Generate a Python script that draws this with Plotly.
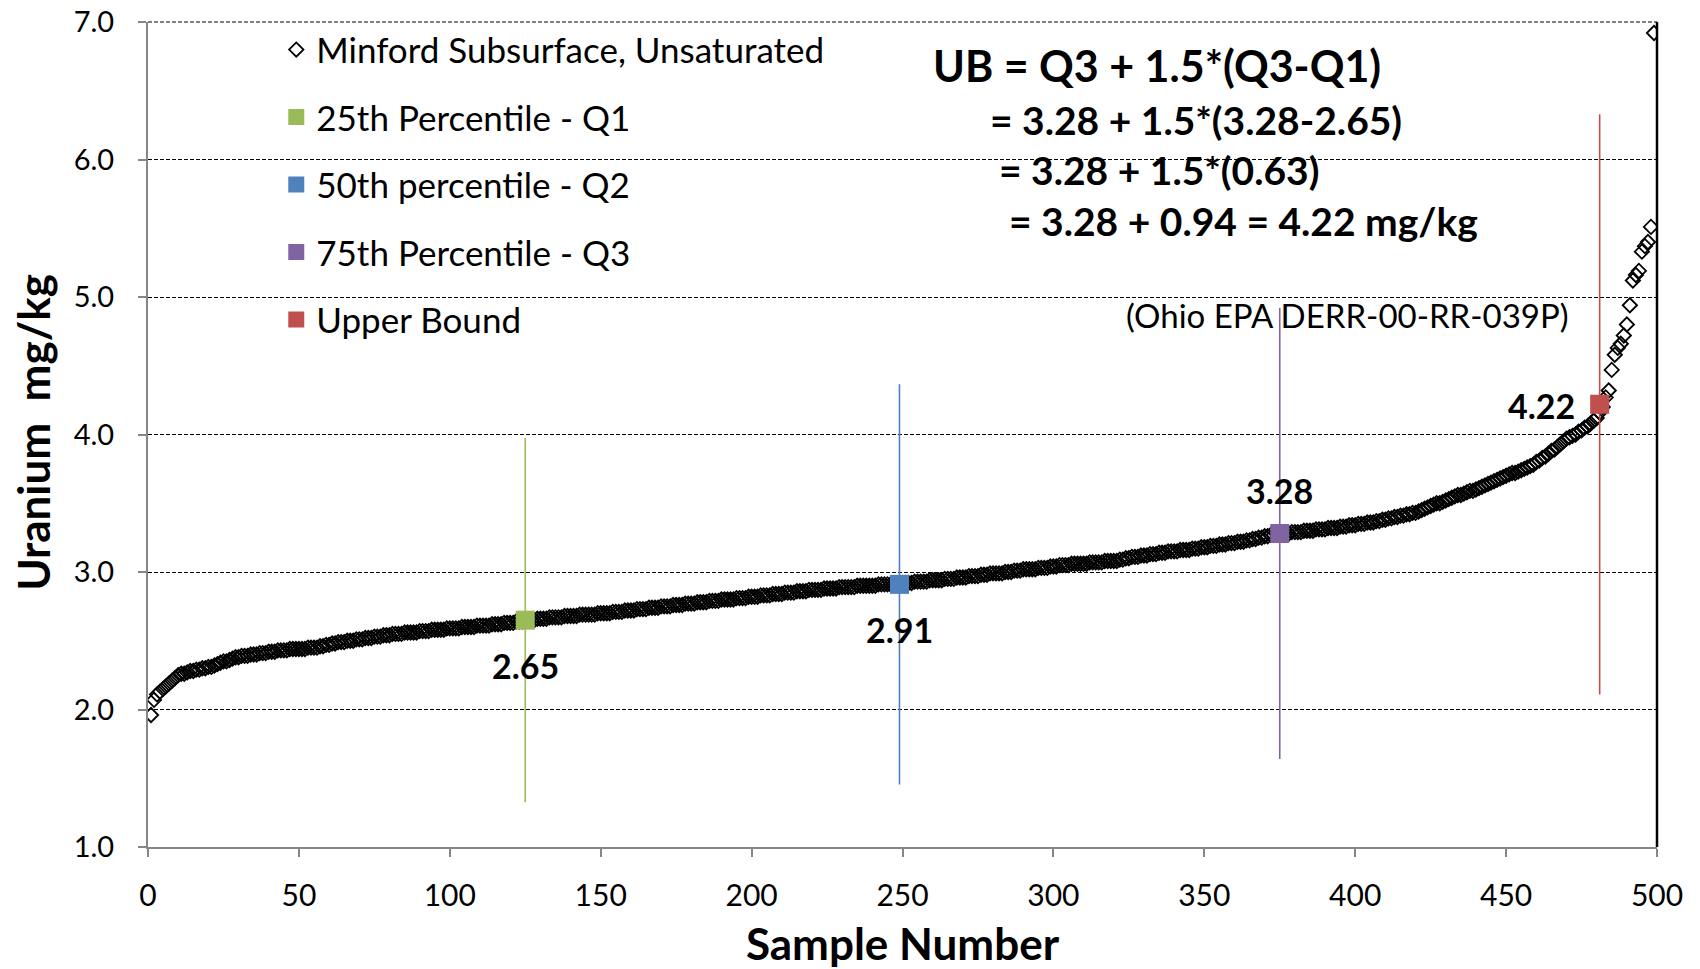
import plotly.graph_objects as go

# Sorted uranium concentrations (mg/kg), Minford subsurface unsaturated samples
uranium = [
    1.96, 2.07, 2.11, 2.13, 2.15, 2.17, 2.19, 2.21, 2.23, 2.25,
    2.26, 2.26, 2.27, 2.28,
    2.28, 2.29, 2.29, 2.30, 2.30,
    2.31, 2.31, 2.32, 2.33, 2.34,
    2.35, 2.35, 2.36, 2.37, 2.38,
    2.38, 2.39, 2.39, 2.39, 2.40, 2.40, 2.40,
    2.41, 2.41, 2.41, 2.42, 2.42, 2.42, 2.43, 2.43,
    2.43, 2.43, 2.44, 2.44, 2.44, 2.44, 2.44, 2.44,
    2.45, 2.45, 2.45, 2.45, 2.46, 2.46,
    2.47, 2.47, 2.48, 2.48, 2.49, 2.49, 2.49,
    2.50, 2.50, 2.50, 2.51, 2.51, 2.51,
    2.52, 2.52, 2.52, 2.53, 2.53, 2.53, 2.54, 2.54, 2.54, 2.55, 2.55,
    2.55, 2.55, 2.56, 2.56, 2.56, 2.56, 2.56, 2.57, 2.57, 2.57, 2.57,
    2.58, 2.58, 2.58, 2.58, 2.58, 2.59, 2.59, 2.59, 2.59, 2.59, 2.60,
    2.60, 2.60, 2.60, 2.60, 2.61, 2.61, 2.61, 2.61, 2.61, 2.62, 2.62,
    2.62, 2.62, 2.63, 2.63, 2.63, 2.63, 2.64, 2.64, 2.64, 2.65,
    2.65, 2.65, 2.65, 2.66, 2.66,
    2.66, 2.66, 2.67, 2.67, 2.67,
    2.67, 2.67, 2.68, 2.68, 2.68,
    2.68, 2.68, 2.69, 2.69, 2.69,
    2.69, 2.69, 2.69, 2.70, 2.70,
    2.70, 2.70, 2.70, 2.71, 2.71,
    2.71, 2.71, 2.72, 2.72, 2.72,
    2.72, 2.73, 2.73, 2.73, 2.73,
    2.74, 2.74, 2.74, 2.74, 2.75,
    2.75, 2.75, 2.75, 2.76, 2.76,
    2.76, 2.76, 2.77, 2.77, 2.77,
    2.77, 2.78, 2.78, 2.78, 2.78,
    2.79, 2.79, 2.79, 2.79, 2.80,
    2.80, 2.80, 2.80, 2.80, 2.81,
    2.81, 2.81, 2.81, 2.82, 2.82,
    2.82, 2.82, 2.83, 2.83, 2.83,
    2.83, 2.84, 2.84, 2.84, 2.84,
    2.85, 2.85, 2.85, 2.85, 2.86,
    2.86, 2.86, 2.86, 2.87, 2.87,
    2.87, 2.87, 2.87, 2.88, 2.88,
    2.88, 2.88, 2.88, 2.89, 2.89,
    2.89, 2.89, 2.89, 2.89, 2.90,
    2.90, 2.90, 2.90, 2.90, 2.90,
    2.90, 2.91, 2.91, 2.91, 2.91,
    2.91, 2.91, 2.91, 2.91, 2.92,
    2.92, 2.92, 2.92, 2.93, 2.93,
    2.93, 2.93, 2.93, 2.94, 2.94,
    2.94, 2.94, 2.94, 2.95, 2.95,
    2.95, 2.95, 2.96, 2.96, 2.96,
    2.96, 2.97, 2.97, 2.97, 2.97,
    2.98, 2.98, 2.98, 2.99, 2.99,
    2.99, 2.99, 2.99, 3.00, 3.00, 3.00,
    3.01, 3.01, 3.01, 3.02, 3.02, 3.02,
    3.02, 3.02, 3.03, 3.03, 3.03, 3.03,
    3.04, 3.04, 3.04, 3.05, 3.05, 3.05, 3.05, 3.06, 3.06, 3.06, 3.06,
    3.06, 3.06, 3.07, 3.07, 3.07, 3.07, 3.07, 3.08, 3.08, 3.08, 3.08, 3.08, 3.09, 3.09,
    3.10, 3.10, 3.11, 3.11, 3.11, 3.12, 3.12, 3.12, 3.13,
    3.13, 3.13, 3.14, 3.14, 3.14, 3.15, 3.15, 3.15, 3.15, 3.16, 3.16,
    3.16, 3.16, 3.17, 3.17, 3.17, 3.18, 3.18, 3.18, 3.19, 3.19, 3.19,
    3.20, 3.20, 3.20, 3.21, 3.21, 3.21, 3.22, 3.22, 3.22, 3.23, 3.23,
    3.24, 3.24, 3.25, 3.25, 3.26, 3.26, 3.27, 3.27, 3.28, 3.28,
    3.28, 3.28, 3.28, 3.29, 3.29, 3.29, 3.29,
    3.30, 3.30, 3.30, 3.30, 3.31, 3.31, 3.31, 3.31, 3.32, 3.32, 3.32,
    3.32, 3.33, 3.33, 3.33, 3.34, 3.34, 3.34, 3.35, 3.35, 3.35, 3.36,
    3.36, 3.36, 3.37, 3.37, 3.38, 3.38, 3.39, 3.39, 3.40, 3.40, 3.41,
    3.41, 3.42, 3.42, 3.43, 3.43, 3.44, 3.45, 3.46,
    3.47, 3.48, 3.49, 3.50, 3.50, 3.51, 3.52, 3.53, 3.54,
    3.55, 3.56, 3.56, 3.57, 3.58, 3.59, 3.59, 3.60, 3.61, 3.62, 3.63,
    3.64, 3.65, 3.66, 3.67, 3.68, 3.69, 3.70, 3.71, 3.72,
    3.72, 3.73, 3.74, 3.75, 3.76, 3.77, 3.78,
    3.80, 3.81, 3.83, 3.84, 3.86, 3.88,
    3.89, 3.91, 3.93, 3.95, 3.97,
    3.98, 3.99, 4.00, 4.02, 4.03, 4.05,
    4.06, 4.08, 4.10, 4.12, 4.16, 4.20,
    4.27, 4.32, 4.47, 4.58, 4.63, 4.66, 4.72, 4.80, 4.94, 5.12,
    5.16, 5.19, 5.33, 5.37, 5.40, 5.51, 6.92,
]
sample_number = list(range(1, len(uranium) + 1))

# Percentile / bound markers
stat_names = ["25th Percentile - Q1", "50th percentile - Q2", "75th Percentile - Q3", "Upper Bound"]
stat_x = [125, 249, 375, 481]
stat_y = [2.65, 2.91, 3.28, 4.22]
stat_labels = ["2.65", "2.91", "3.28", "4.22"]
stat_colors = ["#9BBB59", "#4F81BD", "#8064A2", "#C0504D"]
errbar_percent = 50

x_ticks = [0, 50, 100, 150, 200, 250, 300, 350, 400, 450, 500]
y_ticks = [1.0, 2.0, 3.0, 4.0, 5.0, 6.0, 7.0]

FONT = "Lato"

fig = go.Figure()
fig.add_trace(go.Scatter(
    x=sample_number, y=uranium, mode="markers",
    name="Minford Subsurface, Unsaturated",
    marker=dict(symbol="diamond-open", size=11, color="black", line=dict(width=1.8, color="black")),
    legendgroup="g0",
))
for i, (nm, xv, yv, c) in enumerate(zip(stat_names, stat_x, stat_y, stat_colors)):
    fig.add_trace(go.Scatter(
        x=[xv], y=[yv], mode="markers", name=nm,
        marker=dict(symbol="square", size=19, color=c),
        error_y=dict(type="percent", value=errbar_percent, color=c, thickness=1.6, width=0),
        legendgroup=f"g{i+1}",
    ))

# value labels next to each marker
offsets = [(0, -45), (0, -45), (0, 43), (-58, -1)]
for xv, yv, lab, (dx, dy) in zip(stat_x, stat_y, stat_labels, offsets):
    fig.add_annotation(x=xv, y=yv, xref="x", yref="y", text=f"<b>{lab}</b>", showarrow=False,
                       xshift=dx, yshift=dy, font=dict(family=FONT, size=34, color="black"))

# formula text block
formula = [
    ("<b>UB = Q3 + 1.5*(Q3-Q1)</b>", 0.519, 0.9475, 43),
    ("<b>= 3.28 + 1.5*(3.28-2.65)</b>", 0.5565, 0.8815, 39),
    ("<b>= 3.28 + 1.5*(0.63)</b>", 0.5625, 0.8205, 39),
    ("<b>= 3.28 + 0.94 = 4.22 mg/kg</b>", 0.569, 0.7585, 39),
    ("(Ohio EPA DERR-00-RR-039P)", 0.647, 0.645, 33),
]
for txt, xp, yp, fs in formula:
    fig.add_annotation(x=xp, y=yp, xref="paper", yref="paper", text=txt, showarrow=False,
                       xanchor="left", yanchor="middle", font=dict(family=FONT, size=fs, color="black"))

# y-axis title (placed as rotated text)
fig.add_annotation(x=-0.0762, y=0.502, xref="paper", yref="paper", text="<b>Uranium  mg/kg</b>",
                   showarrow=False, textangle=-90, xanchor="center", yanchor="middle",
                   font=dict(family=FONT, size=44, color="black"))

# plot frame: solid right border, dashed top edge (gridline at 7.0)
fig.add_shape(type="line", xref="x domain", yref="y domain", x0=1, x1=1, y0=0, y1=1,
              line=dict(color="black", width=2.5))
fig.add_shape(type="line", xref="x domain", yref="y domain", x0=0, x1=1, y0=1, y1=1,
              line=dict(color="black", width=1, dash="4px,2px"))

fig.update_layout(
    width=1700, height=969,
    margin=dict(l=148, r=43, t=22, b=122),
    plot_bgcolor="white", paper_bgcolor="white",
    font=dict(family=FONT, color="black"),
    showlegend=True,
    legend=dict(x=0.085, y=1.002, xanchor="left", yanchor="top", bgcolor="rgba(0,0,0,0)",
                font=dict(family=FONT, size=35, color="black"), tracegroupgap=19,
                itemsizing="trace"),
    xaxis=dict(range=[0, 500], tickvals=x_ticks, showgrid=False, zeroline=False,
               showline=True, linecolor="#868686", linewidth=2, ticks="outside",
               ticklen=8, tickcolor="#868686", tickwidth=1.5, automargin=False,
               ticklabelstandoff=13,
               tickfont=dict(family=FONT, size=30, color="black"),
               title=dict(text="<b>Sample Number</b>", font=dict(family=FONT, size=44, color="black"), standoff=20)),
    yaxis=dict(range=[1, 7], tickvals=y_ticks, tickformat=".1f", showgrid=True,
               gridcolor="black", gridwidth=1, griddash="4px,2px", zeroline=False,
               showline=True, linecolor="#868686", linewidth=2, ticks="outside",
               ticklen=8, tickcolor="#868686", tickwidth=1.5, automargin=False,
               ticklabelstandoff=18,
               tickfont=dict(family=FONT, size=29, color="black")),
)

fig.write_html("out.html", config={"displayModeBar": False},
               post_script="document.body.style.margin='0';")
